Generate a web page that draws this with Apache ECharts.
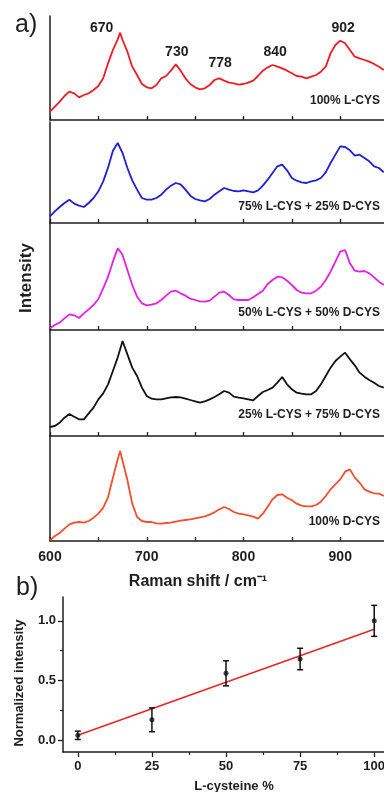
<!DOCTYPE html>
<html>
<head>
<meta charset="utf-8">
<script src="https://cdn.jsdelivr.net/npm/echarts@6/dist/echarts.min.js"></script>
<style>
html, body { margin: 0; padding: 0; background: #fff; }
#chart { width: 384px; height: 792px; }
</style>
</head>
<body>
<div id="chart"></div>
<script>
// Raman shift (cm-1)
var shift = [600, 605, 610, 615, 620, 625, 630, 635, 640, 645,
  650, 655, 660, 665, 670, 672.5, 675, 680, 685, 690, 695,
  700, 705, 710, 715, 720, 725, 730, 735, 740, 745,
  750, 755, 760, 765, 770, 775, 780, 785, 790, 795,
  800, 805, 810, 815, 820, 825, 830, 835, 840, 845,
  850, 855, 860, 865, 870, 875, 880, 885, 890, 895,
  900, 905, 910, 915, 920, 925, 930, 935, 940, 945]

// spectra, arbitrary intensity units per panel
var lcys100 = [25, 40, 55, 72, 85, 80, 68, 75, 80, 90,
  102, 125, 170, 210, 242, 262, 240, 205, 160, 135, 108,
  98, 95, 105, 125, 132, 148, 167, 148, 125, 108,
  98, 92, 95, 105, 120, 125, 118, 112, 110, 106,
  108, 112, 118, 132, 148, 158, 165, 160, 155, 148,
  140, 132, 130, 125, 130, 135, 145, 160, 200, 225,
  238, 230, 210, 190, 185, 180, 175, 168, 160, 150]
var lcys75 = [20, 35, 48, 60, 70, 58, 52, 48, 60, 75,
  95, 125, 166, 217, 240, 225, 210, 165, 128, 100, 75,
  70, 70, 75, 85, 100, 112, 120, 116, 100, 82,
  72, 68, 65, 72, 85, 95, 105, 100, 96, 95,
  98, 95, 92, 98, 112, 130, 150, 170, 175, 158,
  135, 127, 122, 120, 125, 128, 135, 152, 180, 205,
  230, 228, 218, 202, 205, 195, 185, 170, 165, 152]
var lcys50 = [5, 15, 22, 35, 47, 44, 36, 50, 62, 75,
  93, 125, 160, 205, 245, 236, 225, 180, 135, 100, 80,
  74, 76, 80, 90, 103, 115, 118, 110, 103, 94,
  90, 86, 85, 88, 100, 112, 115, 105, 92, 90,
  90, 90, 98, 108, 118, 138, 150, 160, 158, 148,
  135, 120, 112, 110, 110, 118, 130, 150, 175, 205,
  235, 240, 200, 178, 175, 177, 170, 158, 145, 135]
var lcys25 = [27, 30, 40, 55, 66, 58, 50, 50, 68, 85,
  110, 128, 155, 195, 236, 260, 285, 245, 205, 180, 145,
  120, 112, 110, 110, 113, 116, 117, 116, 112, 108,
  104, 100, 104, 110, 117, 125, 135, 130, 118, 115,
  113, 110, 107, 120, 132, 138, 145, 160, 177, 155,
  140, 130, 127, 125, 125, 135, 155, 180, 205, 225,
  238, 250, 230, 212, 190, 178, 168, 160, 150, 145]
var dcys100 = [2, 15, 24, 37, 50, 55, 57, 55, 60, 70,
  82, 100, 131, 190, 245, 270, 240, 183, 112, 72, 60,
  57, 57, 53, 52, 54, 55, 58, 61, 63, 65,
  68, 71, 74, 79, 86, 95, 102, 96, 87, 82,
  80, 77, 73, 67, 82, 103, 125, 138, 140, 130,
  122, 112, 106, 104, 104, 108, 118, 135, 155, 170,
  185, 208, 215, 190, 175, 155, 148, 143, 142, 135]

var panelNames = ['100% L-CYS', '75% L-CYS + 25% D-CYS', '50% L-CYS + 50% D-CYS',
  '25% L-CYS + 75% D-CYS', '100% D-CYS']
var peakShifts = [670, 730, 778, 840, 902]

// panel b)
var percent = [0, 25, 50, 75, 100]
var normInt = [0.04, 0.17, 0.56, 0.68, 1.0]
var normErr = [0.035, 0.10, 0.105, 0.09, 0.13]
var fitX = [0, 100]
var fitY = [0.04, 0.93]

// layout
var font = 'Liberation Sans, Arial, sans-serif'
var ink = '#1e1e1e'
var colors = ['#ee1c24', '#1f1fd6', '#e61ee6', '#111111', '#f2502c']
var tops = [16, 122, 223, 330, 436]
var heights = [104, 101, 107, 106, 105]
var nameY = [102, 208, 314, 416, 523]
var peakOffsets = [[-16, -11], [1, -12], [-2, -18], [-7, -16], [1, -13]]

var spectra = [lcys100, lcys75, lcys50, lcys25, dcys100]

function valueAt(arr, p) {
  var best = 0
  for (var i = 0; i < shift.length; i++) {
    if (Math.abs(shift[i] - p) < Math.abs(shift[best] - p)) best = i
  }
  return arr[best]
}

var chart = echarts.init(document.getElementById('chart'))

var grids = []
var xAxes = []
var yAxes = []
var series = []
var graphics = []

spectra.forEach(function(arr, i) {
  grids.push({ left: 50, top: tops[i], height: heights[i], width: 387, outerBoundsMode: 'none' })
  xAxes.push({
    gridIndex: i,
    type: 'value',
    min: 600,
    max: 1000,
    interval: 100,
    axisLine: { onZero: false, lineStyle: { color: ink, width: 1.5 }},
    axisTick: { inside: true, length: 4, lineStyle: { color: ink, width: 1.3 }},
    minorTick: { show: true, splitNumber: 2, length: 4, lineStyle: { color: ink, width: 1.3 }},
    splitLine: { show: false },
    axisLabel: {
      show: i === 4,
      color: ink,
      fontFamily: font,
      fontWeight: 'bold',
      fontSize: 14,
      margin: 9,
      showMaxLabel: false
    }
  })
  yAxes.push({
    gridIndex: i,
    type: 'value',
    min: 0,
    max: heights[i] * 3,
    axisLine: { show: true, onZero: false, lineStyle: { color: ink, width: 1.5 }},
    axisTick: { show: false },
    axisLabel: { show: false },
    splitLine: { show: false }
  })
  var s = {
    type: 'line',
    xAxisIndex: i,
    yAxisIndex: i,
    data: shift.map(function(w, k) { return [w, arr[k]] }),
    symbol: 'none',
    lineStyle: { color: colors[i], width: 1.8 },
    itemStyle: { color: colors[i] },
    silent: true
  }
  if (i === 0) {
    s.markPoint = {
      symbol: 'circle',
      symbolSize: 0,
      label: {
        show: true,
        color: ink,
        fontFamily: font,
        fontWeight: 'bold',
        fontSize: 14,
        formatter: function(p) { return p.value }
      },
      data: peakShifts.map(function(p, k) {
        return { coord: [p, valueAt(arr, p)], value: p, label: { offset: peakOffsets[k] }}
      })
    }
  }
  series.push(s)
  graphics.push({
    type: 'text',
    right: 4,
    top: nameY[i] - 7,
    style: { text: panelNames[i], fill: ink, font: 'bold 12px ' + font }
  })
})

// panel b)
grids.push({ left: 63, top: 597, height: 155, width: 321, outerBoundsMode: 'none' })
xAxes.push({
  gridIndex: 5,
  type: 'value',
  min: -5,
  max: 103.3,
  axisLine: { onZero: false, lineStyle: { color: ink, width: 1.5 }},
  axisTick: { length: 5, customValues: percent, lineStyle: { color: ink, width: 1.3 }},
  splitLine: { show: false },
  axisLabel: {
    customValues: percent,
    color: ink,
    fontFamily: font,
    fontWeight: 'bold',
    fontSize: 13,
    margin: 8
  }
})
xAxes.push({
  gridIndex: 5,
  type: 'value',
  min: -5,
  max: 103.3,
  position: 'bottom',
  axisLine: { show: false, onZero: false },
  axisTick: { length: 3, customValues: [12.5, 37.5, 62.5, 87.5], lineStyle: { color: ink, width: 1.2 }},
  axisLabel: { show: false },
  splitLine: { show: false }
})
yAxes.push({
  gridIndex: 5,
  type: 'value',
  min: -0.1,
  max: 1.2,
  axisLine: { show: true, onZero: false, lineStyle: { color: ink, width: 1.5 }},
  axisTick: { show: true, length: 5, customValues: [0, 0.5, 1.0], lineStyle: { color: ink, width: 1.3 }},
  splitLine: { show: false },
  axisLabel: {
    customValues: [0, 0.5, 1.0],
    formatter: function(v) { return v.toFixed(1) },
    color: ink,
    fontFamily: font,
    fontWeight: 'bold',
    fontSize: 13,
    margin: 7
  }
})
yAxes.push({
  gridIndex: 5,
  type: 'value',
  min: -0.1,
  max: 1.2,
  position: 'left',
  axisLine: { show: false, onZero: false },
  axisTick: { show: true, length: 3, customValues: [0.25, 0.75], lineStyle: { color: ink, width: 1.2 }},
  axisLabel: { show: false },
  splitLine: { show: false }
})

series.push({
  type: 'line',
  xAxisIndex: 5,
  yAxisIndex: 5,
  data: fitX.map(function(x, k) { return [x, fitY[k]] }),
  symbol: 'none',
  lineStyle: { color: '#e8262a', width: 1.6 },
  z: 2,
  silent: true
})
series.push({
  type: 'custom',
  xAxisIndex: 5,
  yAxisIndex: 5,
  data: percent.map(function(x, k) { return [x, normInt[k], normErr[k]] }),
  encode: { x: 0, y: 1 },
  z: 3,
  renderItem: function(params, api) {
    var x = api.value(0)
    var y = api.value(1)
    var e = api.value(2)
    var hi = api.coord([x, y + e])
    var lo = api.coord([x, y - e])
    var w = 3
    var st = { stroke: '#111', lineWidth: 1.5 }
    return {
      type: 'group',
      children: [
        { type: 'line', shape: { x1: hi[0], y1: hi[1], x2: lo[0], y2: lo[1] }, style: st },
        { type: 'line', shape: { x1: hi[0] - w, y1: hi[1], x2: hi[0] + w, y2: hi[1] }, style: st },
        { type: 'line', shape: { x1: lo[0] - w, y1: lo[1], x2: lo[0] + w, y2: lo[1] }, style: st }
      ]
    }
  }
})
series.push({
  type: 'scatter',
  xAxisIndex: 5,
  yAxisIndex: 5,
  data: percent.map(function(x, k) { return [x, normInt[k]] }),
  symbolSize: 5,
  itemStyle: { color: '#111' },
  z: 4,
  silent: true
})

graphics.push(
  { type: 'text', left: 15, top: 13, style: { text: 'a)', fill: ink, font: '25px ' + font }},
  { type: 'text', left: 16, top: 576, style: { text: 'b)', fill: ink, font: '25px ' + font }},
  {
    type: 'text', x: 26, y: 278, rotation: Math.PI / 2,
    style: { text: 'Intensity', fill: ink, font: 'bold 17px ' + font, align: 'center', verticalAlign: 'middle' }
  },
  {
    type: 'text', x: 198, y: 582,
    style: { text: 'Raman shift / cm⁻¹', fill: ink, font: 'bold 16px ' + font, align: 'center', verticalAlign: 'middle' }
  },
  {
    type: 'text', x: 19, y: 683, rotation: Math.PI / 2,
    style: { text: 'Normalized intensity', fill: ink, font: 'bold 13px ' + font, align: 'center', verticalAlign: 'middle' }
  },
  {
    type: 'text', x: 234, y: 786,
    style: { text: 'L-cysteine %', fill: ink, font: 'bold 13px ' + font, align: 'center', verticalAlign: 'middle' }
  }
)

chart.setOption({
  animation: false,
  backgroundColor: '#fff',
  grid: grids,
  xAxis: xAxes,
  yAxis: yAxes,
  series: series,
  graphic: graphics
})
</script>
</body>
</html>
